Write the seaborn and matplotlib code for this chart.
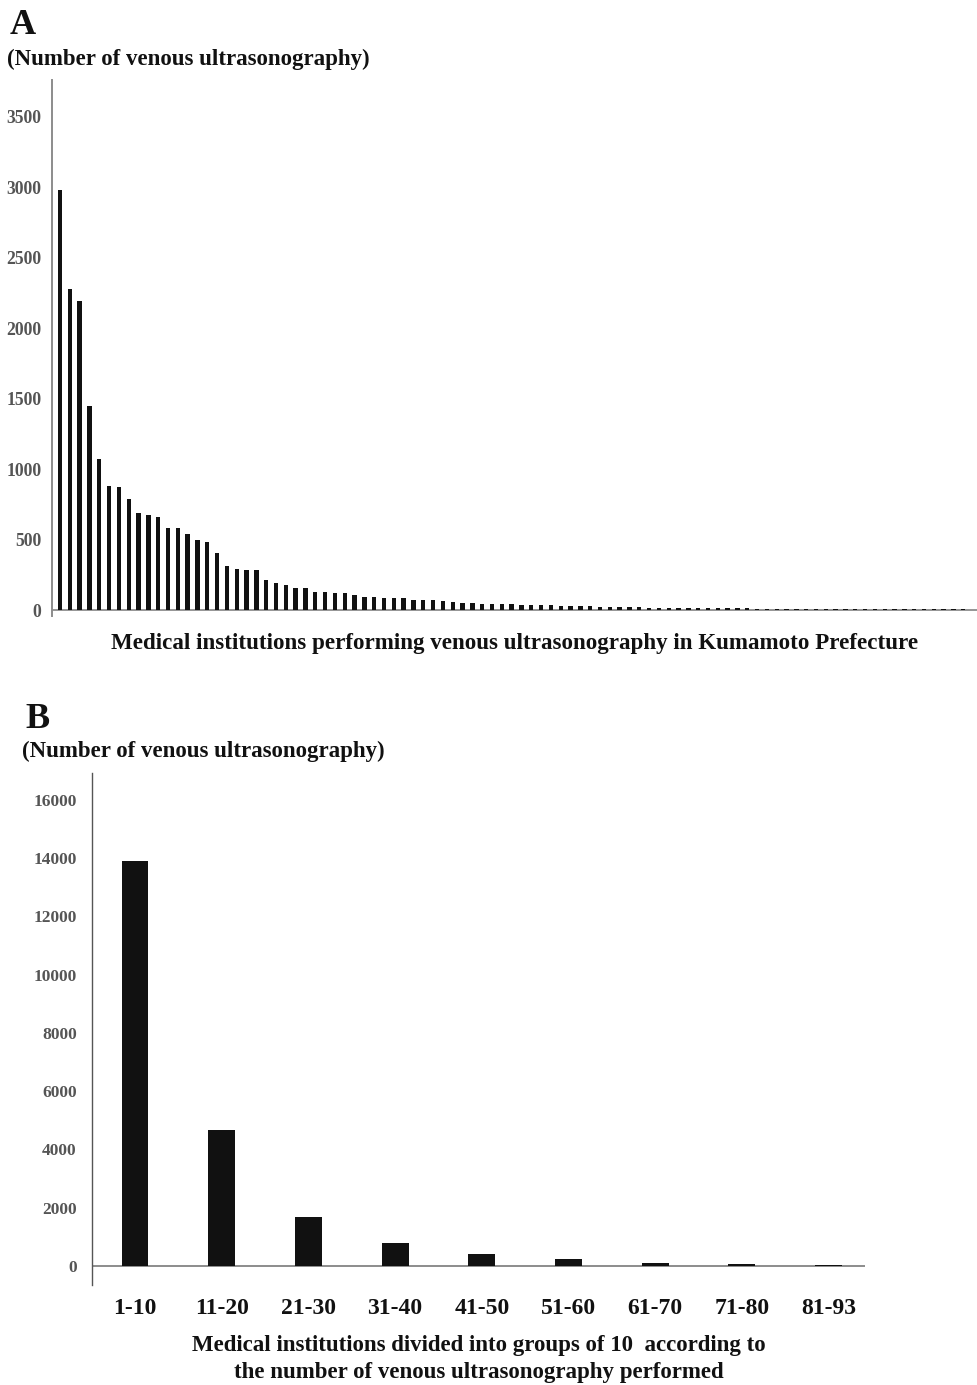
import matplotlib
matplotlib.use("Agg")
import matplotlib.pyplot as plt
import seaborn as sns
import pandas as pd

# ---------------- data ----------------
# Panel A: venous ultrasonography count per institution (93 institutions, ranked)
institution_rank = list(range(1, 94))
exams_per_institution = [
    2980, 2280, 2195, 1445, 1075, 880, 875, 790, 690, 675,
    660, 585, 580, 540, 500, 485, 405, 315, 292, 285,
    282, 210, 190, 180, 160, 158, 130, 128, 124, 118,
    104, 95, 90, 88, 86, 84, 75, 72, 70, 64,
    54, 50, 47, 45, 44, 43, 41, 39, 37, 35,
    33, 31, 30, 28, 26, 25, 24, 22, 20, 19,
    17, 16, 16, 15, 15, 14, 14, 13, 13, 12,
    12, 11, 11, 11, 10, 10, 10, 9, 9, 9,
    8, 8, 8, 7, 7, 7, 6, 6, 6, 5, 5, 5, 5,
]
a_yticks = [0, 500, 1000, 1500, 2000, 2500, 3000, 3500]

# Panel B: grouped totals
group_labels = ["1-10", "11-20", "21-30", "31-40", "41-50",
                "51-60", "61-70", "71-80", "81-93"]
group_totals = [13890, 4650, 1680, 795, 400, 215, 101, 58, 29]
b_yticks = [0, 2000, 4000, 6000, 8000, 10000, 12000, 14000, 16000]

# ---------------- style ----------------
sns.set_theme(style="white")
plt.rcParams["font.family"] = ["Liberation Serif", "DejaVu Serif"]
plt.rcParams["font.weight"] = "bold"

BAR = "#111111"
AXIS = "#8c8c8c"
TICK = "#555555"
TXT = "#111111"

fig = plt.figure(figsize=(9.78, 13.85), dpi=100)

# ---------------- panel A ----------------
axA = fig.add_axes([52 / 978, 1 - 616 / 1385, 1 - 52 / 978, (616 - 80) / 1385])
dfA = pd.DataFrame({"rank": institution_rank, "n": exams_per_institution})
sns.barplot(data=dfA, x="rank", y="n", color=BAR, saturation=1, width=0.45,
            linewidth=0, ax=axA)
axA.set_xlim(-0.815, 93.5)
axA.set_ylim(-42, 3760)
axA.set_yticks(a_yticks)
axA.set_yticklabels([str(v) for v in a_yticks], fontsize=12.7, color=TICK,
                    fontweight="bold")
axA.set_xticks([])
axA.tick_params(axis="y", length=0, pad=7.5)
for s in ["top", "right", "bottom"]:
    axA.spines[s].set_visible(False)
axA.spines["left"].set_color(AXIS)
axA.spines["left"].set_linewidth(1.4)
axA.axhline(0, color=AXIS, linewidth=1.3, zorder=0)
axA.set_ylabel("")
axA.set_xlabel("Medical institutions performing venous ultrasonography in Kumamoto Prefecture",
               fontsize=16.6, fontweight="bold", color=TXT, labelpad=12)

fig.text(10 / 978, 1 - 25 / 1385, "A", fontsize=26, fontweight="bold",
         ha="left", va="center", color=TXT)
fig.text(7 / 978, 1 - 59 / 1385, "(Number of venous ultrasonography)",
         fontsize=16.5, fontweight="bold", ha="left", va="center", color=TXT)

# ---------------- panel B ----------------
axB = fig.add_axes([92 / 978, 1 - 1285 / 1385, (865 - 92) / 978, (1285 - 773) / 1385])
dfB = pd.DataFrame({"group": group_labels, "total": group_totals})
sns.barplot(data=dfB, x="group", y="total", color=BAR, saturation=1, width=0.31,
            linewidth=0, ax=axB)
axB.set_xlim(-0.496, 8.42)
axB.set_ylim(-661, 16926)
axB.set_yticks(b_yticks)
axB.set_yticklabels([str(v) for v in b_yticks], fontsize=12.5, color=TICK,
                    fontweight="bold")
axB.tick_params(axis="y", length=0, pad=11)
axB.tick_params(axis="x", length=0, pad=9)
axB.set_xticks(range(len(group_labels)))
axB.set_xticklabels(group_labels, fontsize=17, fontweight="bold", color=TXT)
for s in ["top", "right", "bottom"]:
    axB.spines[s].set_visible(False)
axB.spines["left"].set_color("#555555")
axB.spines["left"].set_linewidth(1.0)
axB.axhline(0, color=AXIS, linewidth=1.4, zorder=0)
axB.set_ylabel("")
axB.set_xlabel("Medical institutions divided into groups of 10  according to\n"
               "the number of venous ultrasonography performed",
               fontsize=16.5, fontweight="bold", color=TXT, labelpad=12,
               linespacing=1.38)

fig.text(25 / 978, 1 - 719 / 1385, "B", fontsize=26, fontweight="bold",
         ha="left", va="center", color=TXT)
fig.text(22 / 978, 1 - 751 / 1385, "(Number of venous ultrasonography)",
         fontsize=16.5, fontweight="bold", ha="left", va="center", color=TXT)

fig.savefig("out.png", dpi=100)
